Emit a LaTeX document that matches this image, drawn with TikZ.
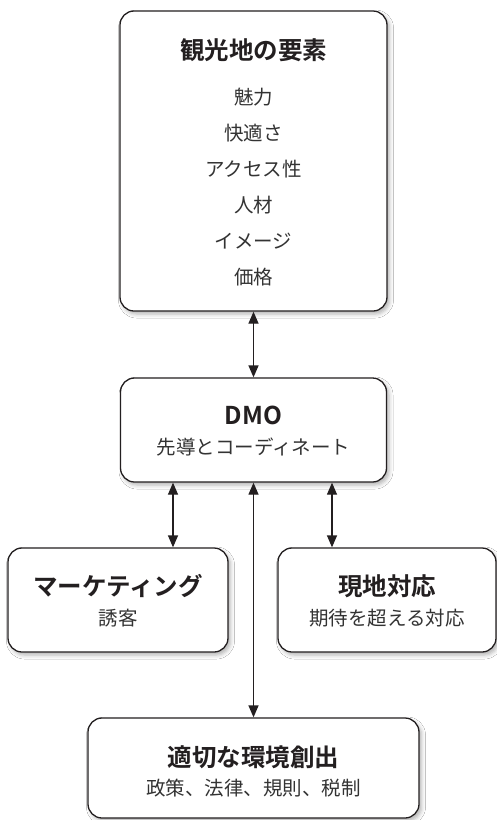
\documentclass[tikz,border=0pt]{standalone}
\usepackage{fontspec}
\setmainfont{Noto Sans CJK JP}[BoldFont={Noto Sans CJK JP Bold}]
\usetikzlibrary{arrows.meta,shadows.blur,calc}
\definecolor{ink}{HTML}{231F20}
\definecolor{txt}{HTML}{333333}
\tikzset{
  box/.style={draw=ink, line width=1.3pt, rounded corners=14pt, fill=white,
    blur shadow={shadow xshift=2.5pt, shadow yshift=-3pt, shadow blur radius=4pt, shadow opacity=30},
    inner sep=0pt},
  ttl/.style={font=\bfseries\fontsize{24.5}{28}\selectfont, text=ink, inner sep=0pt},
  sub/.style={font=\fontsize{19.5}{24}\selectfont, text=txt, inner sep=0pt},
  dbl/.style={draw=ink, line width=1.3pt, {Triangle[length=12pt,width=10pt]}-{Triangle[length=12pt,width=10pt]}}
}
\begin{document}
\begin{tikzpicture}[x=1pt,y=-1pt]
\fill[white] (0,0) rectangle (497,820);
\useasboundingbox (0,0) rectangle (497,820);
% boxes
\node[box, minimum width=267pt, minimum height=300pt] (top) at (253.5,161) {};
\node[box, minimum width=266pt, minimum height=104pt] (dmo) at (253.5,430) {};
\node[box, minimum width=220pt, minimum height=104pt] (mkt) at (118,600) {};
\node[box, minimum width=218pt, minimum height=104pt] (loc) at (387,600) {};
\node[box, minimum width=331pt, minimum height=100pt] (bot) at (253.5,768) {};
% texts
\node[ttl] (t0) at (253.5,50) {観光地の要素};
\node[sub] (t1) at (253.5,97) {魅力};
\node[sub] (t2) at (253.5,133) {快適さ};
\node[sub] (t3) at (253.5,169) {アクセス性};
\node[sub] (t4) at (253.5,205) {人材};
\node[sub] (t5) at (253.5,241) {イメージ};
\node[sub] (t6) at (253.5,277) {価格};
\node[ttl] (d0) at (253.5,415) {DMO};
\node[sub] (d1) at (253.5,447) {先導とコーディネート};
\node[ttl] (m0) at (118,586) {マーケティング};
\node[sub] (m1) at (118,618) {誘客};
\node[ttl] (l0) at (387,586) {現地対応};
\node[sub] (l1) at (387,618) {期待を超える対応};
\node[ttl] (b0) at (253.5,757) {適切な環境創出};
\node[sub] (b1) at (253.5,788) {政策、法律、規則、税制};
% connectors
\draw[dbl] (top.south) -- (dmo.north);
\draw[dbl] (dmo.south -| {$(mkt.north)+(55pt,0)$}) -- ($(mkt.north)+(55pt,0)$);
\draw[dbl] (dmo.south -| {$(loc.north)+(-55pt,0)$}) -- ($(loc.north)+(-55pt,0)$);
\draw[dbl] (dmo.south) -- (bot.north);
\end{tikzpicture}
\end{document}
